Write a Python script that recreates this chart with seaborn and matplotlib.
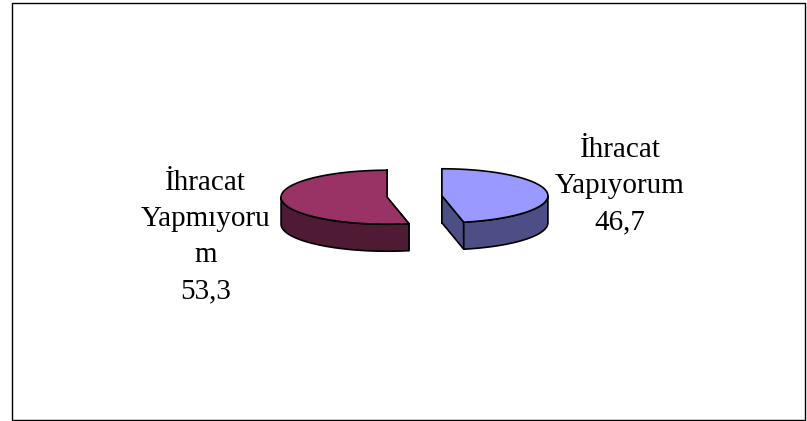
import numpy as np
import matplotlib
matplotlib.use('Agg')
import matplotlib.pyplot as plt
from matplotlib.patches import Polygon, Rectangle
import seaborn as sns

sns.set_style('white')
plt.rcParams['font.family'] = ['Liberation Serif', 'DejaVu Serif']

# slice data (clockwise from 12 o'clock)
categories = ['İhracat\nYapıyorum', 'İhracat\nYapmıyoru\nm']
values = [46.7, 53.3]
value_text = ['46,7', '53,3']
top_colors = ['#9999FF', '#993366']
side_colors = ['#4E4E86', '#4F1A33']

# 3d pie layout in pixel space
cx, cy = 414.5, 196.5
rx, ry = 106, 27
depth = 27
explode = 0.26
label_pos = [(620, 186), (205.5, 237)]


def pt(c, r, ang):
    a = np.radians(ang)
    return c[0] + rx * r * np.sin(a), c[1] - ry * r * np.cos(a)


fig = plt.figure(figsize=(8.07, 4.21), dpi=100)
ax = fig.add_axes([0, 0, 1, 1])
ax.set_xlim(0, 807)
ax.set_ylim(421, 0)
ax.axis('off')

ax.add_patch(Rectangle((11.5, 2.5), 793, 417, fill=False, ec='black', lw=1))

angles = np.cumsum([0] + values) / sum(values) * 360
walls, fronts, tops = [], [], []
for i in range(len(values)):
    t1, t2 = angles[i], angles[i + 1]
    mid = (t1 + t2) / 2
    c = pt((cx, cy), explode, mid)
    # radial walls
    for t in (t1, t2):
        p = pt(c, 1, t)
        walls.append(([c, p, (p[0], p[1] + depth), (c[0], c[1] + depth)], side_colors[i]))
    # outer front wall
    lo, hi = max(t1, 90), min(t2, 270)
    if hi > lo:
        ts = np.linspace(lo, hi, 80)
        top_arc = [pt(c, 1, t) for t in ts]
        bot_arc = [(x, y + depth) for x, y in top_arc[::-1]]
        fronts.append((top_arc + bot_arc, side_colors[i]))
    # top face
    ts = np.linspace(t1, t2, 160)
    tops.append(([c] + [pt(c, 1, t) for t in ts], top_colors[i]))

for poly, col in walls + fronts + tops:
    ax.add_patch(Polygon(poly, closed=True, fc=col, ec='black', lw=1.2, joinstyle='round'))

for i in range(len(values)):
    ax.text(label_pos[i][0], label_pos[i][1], categories[i] + '\n' + value_text[i],
            ha='center', va='center', multialignment='center',
            fontsize=21, linespacing=1.5, color='black')

fig.savefig('out.png', dpi=100)
